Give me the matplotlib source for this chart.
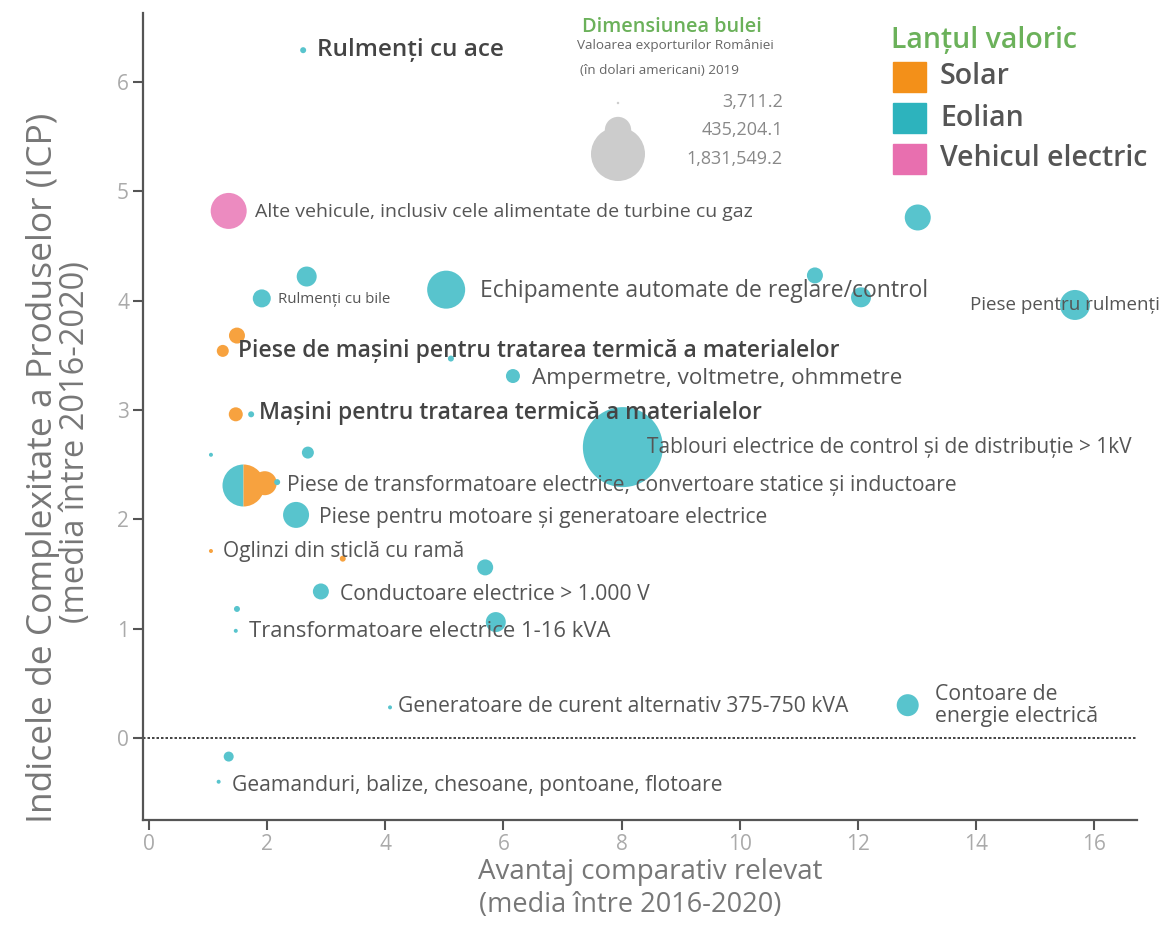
import numpy as np
import matplotlib
matplotlib.use("Agg")
import matplotlib.pyplot as plt
from matplotlib.patches import Rectangle

plt.rcParams['font.family'] = ['Open Sans', 'DejaVu Sans']

# --- data ---
rca = [2.61, 1.35, 13.01, 2.67, 11.27, 5.03, 1.91, 12.05, 15.67, 1.49, 1.25, 5.11,
       6.16, 1.47, 1.73, 1.05, 2.69, 8.02, 1.96, 2.17, 2.49, 1.05, 3.28, 5.69,
       2.91, 1.49, 1.47, 5.87, 4.08, 12.84, 1.35, 1.18]
pci = [6.29, 4.82, 4.76, 4.22, 4.23, 4.10, 4.02, 4.03, 3.96, 3.68, 3.54, 3.47,
       3.31, 2.96, 2.96, 2.59, 2.61, 2.66, 2.33, 2.34, 2.04, 1.71, 1.64, 1.56,
       1.34, 1.18, 0.98, 1.06, 0.28, 0.30, -0.17, -0.40]
exports = [22600, 814000, 424600, 251000, 160800, 907000, 203500, 251000, 565300,
           160800, 90400, 22600, 123100, 123100, 22600, 10000, 90400, 4020000,
           361800, 22600, 424600, 10000, 22600, 160800, 160800, 22600, 10000,
           251000, 10000, 304000, 62800, 10000]
chain = ['Eolian', 'Vehicul electric', 'Eolian', 'Eolian', 'Eolian', 'Eolian', 'Eolian',
         'Eolian', 'Eolian', 'Solar', 'Solar', 'Eolian', 'Eolian', 'Solar', 'Eolian',
         'Eolian', 'Eolian', 'Eolian', 'Solar', 'Eolian', 'Eolian', 'Solar', 'Solar',
         'Eolian', 'Eolian', 'Eolian', 'Eolian', 'Eolian', 'Eolian', 'Eolian',
         'Eolian', 'Eolian']

# product that belongs to both Eolian and Solar chains (split bubble)
split_rca = 1.59
split_pci = 2.31
split_export = 1108000

chains = ['Solar', 'Eolian', 'Vehicul electric']

legend_values = [3711.2, 435204.1, 1831549.2]

labels = ['Rulmenți cu ace',
          'Alte vehicule, inclusiv cele alimentate de turbine cu gaz',
          'Rulmenți cu bile',
          'Echipamente automate de reglare/control',
          'Piese pentru rulmenți',
          'Piese de mașini pentru tratarea termică a materialelor',
          'Ampermetre, voltmetre, ohmmetre',
          'Mașini pentru tratarea termică a materialelor',
          'Tablouri electrice de control și de distribuție > 1kV',
          'Piese de transformatoare electrice, convertoare statice și inductoare',
          'Piese pentru motoare și generatoare electrice',
          'Oglinzi din sticlă cu ramă',
          'Conductoare electrice > 1.000 V',
          'Transformatoare electrice 1-16 kVA',
          'Generatoare de curent alternativ 375-750 kVA',
          'Contoare de\nenergie electrică',
          'Geamanduri, balize, chesoane, pontoane, flotoare']

# label placement (data coords) and font size / weight
label_pos = [(2.84, 6.29), (1.79, 4.81), (2.18, 4.01), (5.60, 4.09), (13.89, 3.96),
             (1.51, 3.54), (6.48, 3.29), (1.86, 2.97), (8.43, 2.66), (2.34, 2.31),
             (2.88, 2.02), (1.25, 1.71), (3.23, 1.31), (1.69, 0.97), (4.21, 0.29),
             (13.30, 0.30), (1.40, -0.43)]
label_fs = [17.5, 14, 10.8, 16.5, 13.5, 16.5, 16.2, 16.5, 15, 15.2, 15.2, 15, 15.2,
            15.8, 15.2, 15.3, 15.2]
label_bold = [True, False, False, False, False, True, False, True, False, False,
              False, False, False, False, False, False, False]

# --- styles ---
legend_colors = {'Solar': '#F39019', 'Eolian': '#2DB3BD', 'Vehicul electric': '#E86FAF'}
bubble_colors = {'Solar': '#F7A23F', 'Eolian': '#58C4CD', 'Vehicul electric': '#EC8BC0'}
GREEN = '#6BB15A'
TEXT = '#555555'

V_REF = 1831549.2
S_REF = (2 * 27 * 0.72) ** 2   # marker area (pt^2) of the reference bubble


def bubble_size(v):
    return S_REF * np.asarray(v, dtype=float) / V_REF


fig = plt.figure(figsize=(11.6, 9.3), dpi=100)
ax = fig.add_axes([143 / 1160, 1 - 820 / 930, (1137 - 143) / 1160, (820 - 13) / 930])

order = np.argsort(exports)[::-1]
x = np.array(rca)[order]
y = np.array(pci)[order]
s = bubble_size(exports)[order]
c = [bubble_colors[chain[i]] for i in order]

# split bubble
d = np.sqrt(bubble_size(split_export))
ax.plot(split_rca, split_pci, 'o', ms=d, fillstyle='left',
        markerfacecolor=bubble_colors['Eolian'], markerfacecoloralt=bubble_colors['Solar'],
        markeredgecolor='none', zorder=2)
ax.scatter(x, y, s=s, c=c, edgecolors='none', zorder=3)

for txt, (tx, ty), fs, b in zip(labels, label_pos, label_fs, label_bold):
    ax.text(tx, ty, txt, fontsize=fs, va='center', ha='left',
            color='#444444' if b else TEXT, fontweight='semibold' if b else 'normal',
            linespacing=1.05, zorder=4)

ax.axhline(0, color='#222222', lw=1.2, ls=(0, (1.5, 1.2)), zorder=1)

ax.set_xlim(-0.1, 16.72)
ax.set_ylim(-0.75, 6.63)
ax.set_xticks(range(0, 17, 2))
ax.set_yticks(range(0, 7))
for side in ['top', 'right']:
    ax.spines[side].set_visible(False)
for side in ['left', 'bottom']:
    ax.spines[side].set_color('#555555')
    ax.spines[side].set_linewidth(1.6)
ax.tick_params(length=7, width=1.5, color='#555555', labelcolor='#AAAAAA',
               labelsize=15, pad=3)

# axis titles
fig.text(43 / 1160, 1 - 468 / 930, 'Indicele de Complexitate a Produselor (ICP)',
         rotation=90, ha='center', va='center', fontsize=25.5, color='#777777')
fig.text(76 / 1160, 1 - 442 / 930, '(media între 2016-2020)',
         rotation=90, ha='center', va='center', fontsize=23.5, color='#777777')
fig.text(650 / 1160, 1 - 872 / 930, 'Avantaj comparativ relevat',
         ha='center', va='center', fontsize=20, color='#777777')
fig.text(630 / 1160, 1 - 905 / 930, '(media între 2016-2020)',
         ha='center', va='center', fontsize=19.5, color='#777777')

# overlay axes in figure fraction for the legends
fig_ax = fig.add_axes([0, 0, 1, 1], facecolor='none')
fig_ax.set_axis_off()
fig_ax.set_xlim(0, 1)
fig_ax.set_ylim(0, 1)

# bubble size legend
fig_ax.text(672 / 1160, 1 - 27 / 930, 'Dimensiunea bulei', ha='center', va='center',
            fontsize=14.3, color=GREEN, fontweight='semibold')
fig_ax.text(577 / 1160, 1 - 46 / 930, 'Valoarea exporturilor României',
            ha='left', va='center', fontsize=9.7, color='#666666')
fig_ax.text(580 / 1160, 1 - 71 / 930, '(în dolari americani) 2019',
            ha='left', va='center', fontsize=9.7, color='#666666')
leg_y = [1 - 103 / 930, 1 - 130 / 930, 1 - 154 / 930]
fig_ax.scatter([618 / 1160] * 3, leg_y, s=bubble_size(legend_values),
               color='#CCCCCC', edgecolors='none')
for v, ly in zip(legend_values, [1 - 102 / 930, 1 - 130 / 930, 1 - 159 / 930]):
    fig_ax.text(783 / 1160, ly, f'{v:,.1f}', ha='right', va='center', fontsize=13,
                color='#888888')

# value chain legend
fig_ax.text(891 / 1160, 1 - 40 / 930, 'Lanțul valoric', ha='left', va='center',
            fontsize=20.5, color=GREEN, fontweight='semibold')
for i, name in enumerate(chains):
    cy = 77 + 41 * i
    fig_ax.add_patch(Rectangle((893 / 1160, 1 - (cy + 15) / 930), 33 / 1160, 30 / 930,
                               color=legend_colors[name]))
    fig_ax.text(940 / 1160, 1 - cy / 930, name, ha='left', va='center', fontsize=20.5,
                color=TEXT, fontweight='semibold')

fig.savefig('out.png', dpi=100)
